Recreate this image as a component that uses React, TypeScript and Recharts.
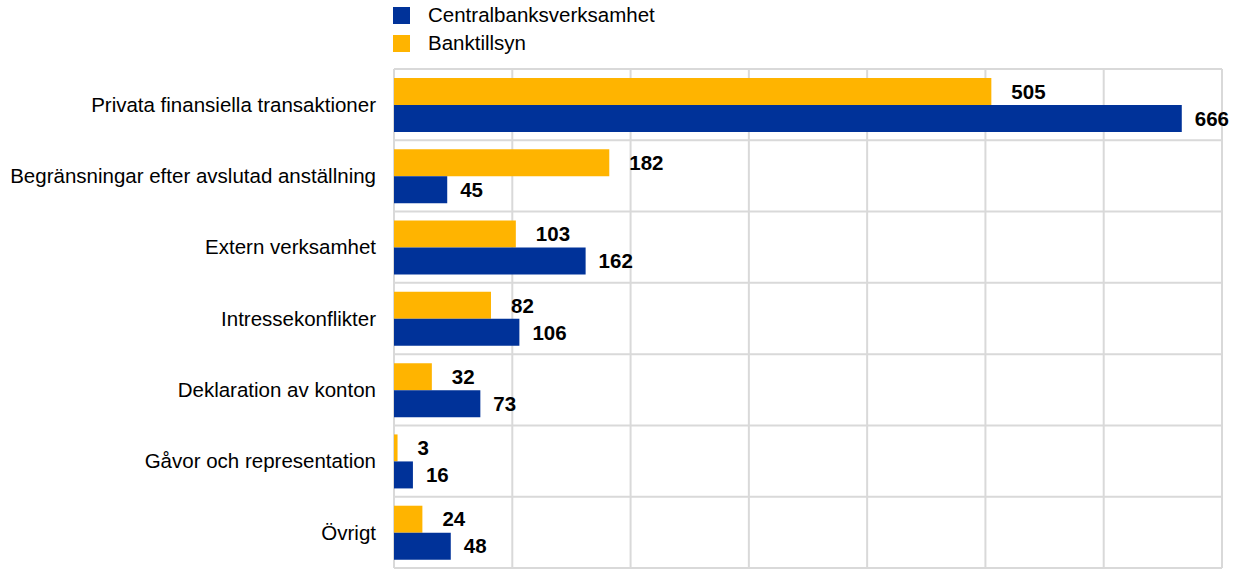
import { BarChart, Bar, XAxis, YAxis, CartesianGrid, LabelList } from 'recharts'

const categories = [
  'Privata finansiella transaktioner',
  'Begränsningar efter avslutad anställning',
  'Extern verksamhet',
  'Intressekonflikter',
  'Deklaration av konton ',
  'Gåvor och representation',
  'Övrigt',
]
const centralbank = [666, 45, 162, 106, 73, 16, 48]
const banktillsyn = [505, 182, 103, 82, 32, 3, 24]
const xTicks = [0, 100, 200, 300, 400, 500, 600, 700]

const BLUE = '#003299'
const YELLOW = '#FFB400'
const FONT = '"Liberation Sans", Arial, sans-serif'
const FS = 20.5

const data = categories.map((name, i) => ({
  name,
  centralbank: centralbank[i],
  banktillsyn: banktillsyn[i],
}))

const legendItems = [
  { label: 'Centralbanksverksamhet', color: BLUE },
  { label: 'Banktillsyn', color: YELLOW },
]

export default function App() {
  return (
    <div style={{ position: 'absolute', left: 0, top: 0, width: 1240, height: 573, fontFamily: FONT }}>
      <div style={{ position: 'absolute', left: 393, top: 1, zIndex: 1 }}>
        {legendItems.map((it) => (
          <div key={it.label} style={{ display: 'flex', alignItems: 'center', height: 28, fontSize: FS, color: '#000' }}>
            <span style={{ width: 17, height: 17, background: it.color, display: 'inline-block', marginRight: 18 }} />
            {it.label}
          </div>
        ))}
      </div>
      <BarChart
        width={1240}
        height={573}
        data={data}
        layout="vertical"
        margin={{ top: 69, right: 18, bottom: 5, left: 0 }}
        barGap={0}
        barSize={27}
      >
        <CartesianGrid
          stroke="#d9d9d9"
          strokeWidth={2}
          horizontalCoordinatesGenerator={({ offset }: any) =>
            categories.concat(['']).map((_, i) => offset.top + (i * offset.height) / categories.length)
          }
        />
        <XAxis type="number" domain={[0, 700]} ticks={xTicks} hide />
        <YAxis
          type="category"
          dataKey="name"
          width={394}
          axisLine={false}
          tickLine={false}
          tickSize={0}
          tickMargin={18}
          interval={0}
          tick={{ fontSize: FS, fill: '#000', fontFamily: FONT }}
        />
        <Bar dataKey="banktillsyn" fill={YELLOW} isAnimationActive={false}>
          <LabelList dataKey="banktillsyn" position="right" offset={20} fill="#000" fontSize={FS} fontWeight="bold" fontFamily={FONT} />
        </Bar>
        <Bar dataKey="centralbank" fill={BLUE} isAnimationActive={false}>
          <LabelList dataKey="centralbank" position="right" offset={13} fill="#000" fontSize={FS} fontWeight="bold" fontFamily={FONT} />
        </Bar>
      </BarChart>
    </div>
  )
}
